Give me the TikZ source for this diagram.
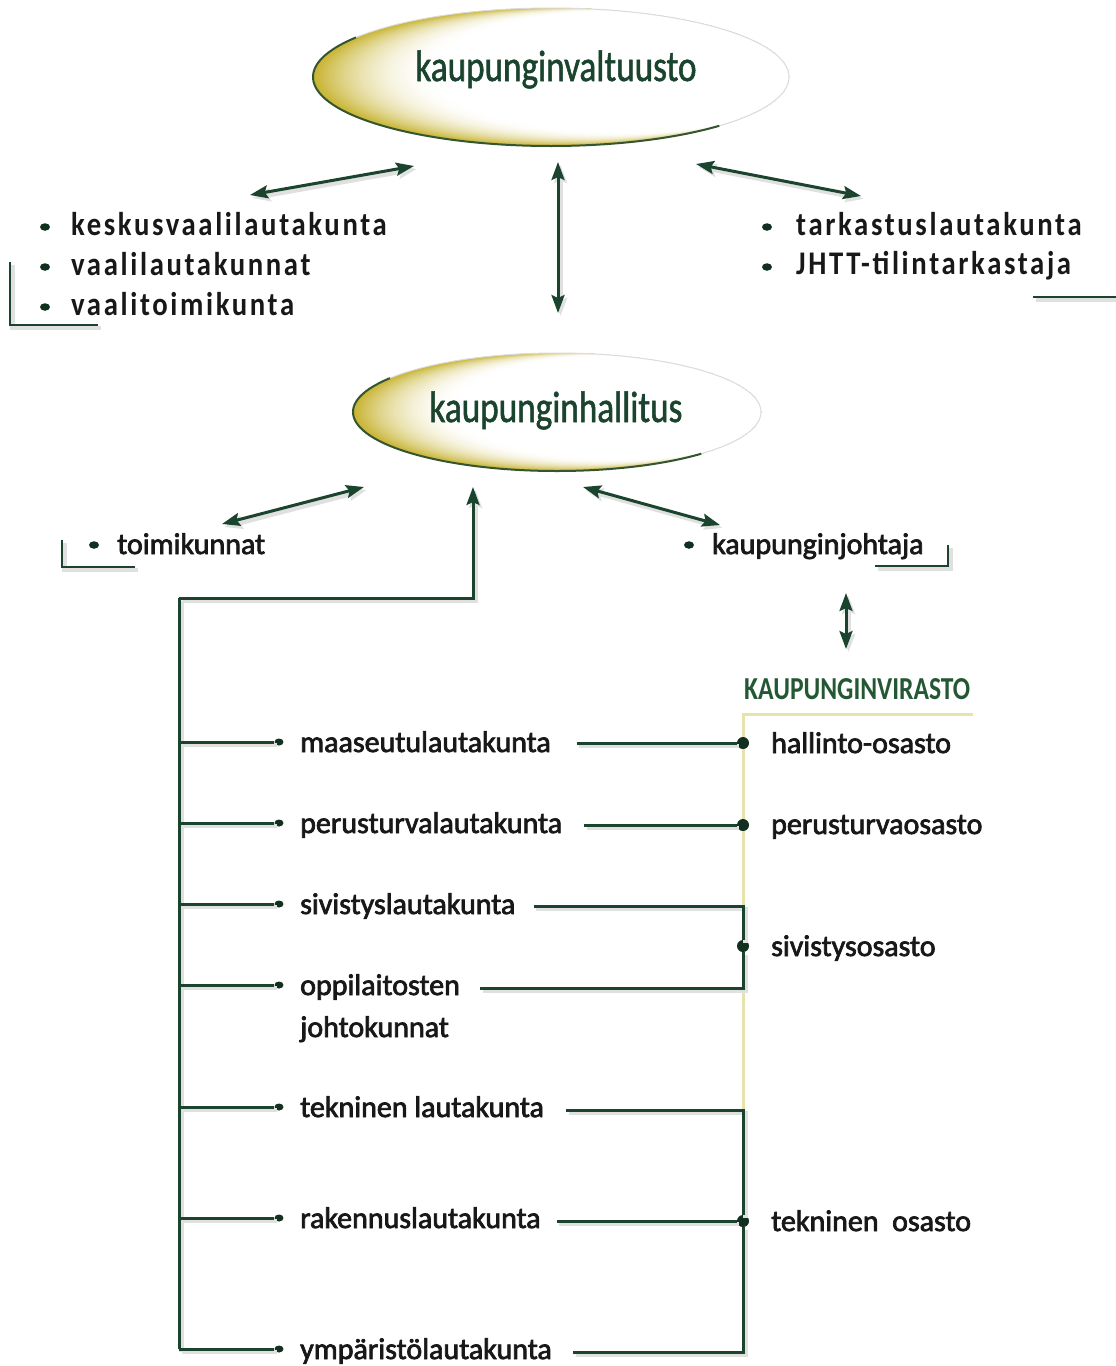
\documentclass[tikz,border=0pt]{standalone}
\usepackage{fontspec}
\setmainfont{Carlito}
\newfontfamily\titlefont[FakeStretch=0.8,FakeBold=1.2]{Carlito}
\newfontfamily\officefont[FakeStretch=0.8]{Carlito}
\newfontfamily\listfont[LetterSpace=8,FakeStretch=0.87]{Carlito}
\newfontfamily\labfont[FakeBold=2.4]{Carlito}
\usetikzlibrary{arrows.meta,shapes.geometric,calc}
\definecolor{dgreen}{RGB}{26,68,46}
\definecolor{ogreen}{RGB}{36,88,52}
\definecolor{gold}{RGB}{200,180,50}
\definecolor{paleyel}{RGB}{230,228,172}
\definecolor{txt}{RGB}{24,24,24}
\tikzset{
  titleell/.style n args={2}{ellipse, minimum width=#1pt, minimum height=#2pt, inner sep=0pt,
    draw=black!14, line width=1pt,
    path picture={
      \foreach \k in {0,...,40}{
        \pgfmathsetmacro\ellt{\k/40}
        \pgfmathsetmacro\ellpc{100*(1-(1-\ellt)*(1-\ellt))}
        \fill[white!\ellpc!gold] ($(path picture bounding box.center)+({0.32*\ellt*#1/2},{-0.08*\ellt*#2/2})$)
           ellipse ({(1-0.2*\ellt)*#1/2} and {(1-0.12*\ellt)*#2/2});
      }
    }},
  outl/.style={draw=dgreen!85!gold, line width=2pt},
  shad/.style={preaction={draw=black!12, line width=4.5pt, transform canvas={shift={(2.5pt,-3pt)}}}},
  conn/.style={draw=dgreen, line width=3pt, shad},
  dbl/.style={conn, {Stealth[length=18pt,width=13pt,inset=3pt]}-{Stealth[length=18pt,width=13pt,inset=3pt]}},
  sgl/.style={conn, -{Stealth[length=18pt,width=13pt,inset=3pt]}},
  bracket/.style={draw=dgreen, line width=2.2pt, shad},
  bul/.style={ellipse, fill=dgreen!70!black, inner sep=0pt, minimum width=10pt, minimum height=7.5pt},
  bigdot/.style={circle, fill=dgreen!70!black, inner sep=0pt, minimum size=12pt},
  toplist/.style={anchor=base west, inner sep=0pt, font={\listfont\bfseries\fontsize{33}{38}\selectfont}, text=txt},
  lab/.style={anchor=base west, inner sep=0pt, font={\labfont\fontsize{30}{36}\selectfont}, text=txt},
  titletext/.style={anchor=base, inner sep=0pt, font={\titlefont\fontsize{44}{50}\selectfont}, text=dgreen},
  office/.style={anchor=base west, inner sep=0pt, font={\officefont\bfseries\fontsize{32}{38}\selectfont}, text=ogreen},
  yline/.style={draw=paleyel, line width=3pt},
}
\begin{document}
\begin{tikzpicture}[x=1pt,y=-1pt]
\useasboundingbox (0,0) rectangle (1116,1366);
\fill[white] (0,0) rectangle (1116,1366);

% ellipses
\node[titleell={476}{138}] (kv) at (551,77) {};
\draw[outl] ($(kv.center)+({238*cos(215)},{69*sin(215)})$) arc[start angle=215, end angle=45, x radius=238, y radius=69];
\node[titletext] (kvt) at (556,81) {kaupunginvaltuusto};
\node[titleell={408}{118}] (kh) at (557,412) {};
\draw[outl] ($(kh.center)+({204*cos(215)},{59*sin(215)})$) arc[start angle=215, end angle=45, x radius=204, y radius=59];
\node[titletext] (kht) at (556,422) {kaupunginhallitus};

% top-left list
\node[bul] (b1) at (45,227) {}; \node[toplist] (kesk) at (71,235) {keskusvaalilautakunta};
\node[bul] (b2) at (45,267) {}; \node[toplist] (vaal) at (71,275) {vaalilautakunnat};
\node[bul] (b3) at (45,307) {}; \node[toplist] (vtoim) at (71,315) {vaalitoimikunta};
\draw[bracket] (10,262) -- (10,325) -- (98,325);

% top-right list
\node[bul] (b4) at (767,227) {}; \node[toplist] (tark) at (796,235) {tarkastuslautakunta};
\node[bul] (b5) at (767,267) {}; \node[toplist] (jhtt) at (796,274) {JHTT-tilintarkastaja};
\draw[bracket] (1033,297) -- (1116,297);

% arrows around kaupunginvaltuusto
\coordinate (kvL) at (414,166); \coordinate (listL) at (250,195);
\coordinate (kvB) at (558,162); \coordinate (khT) at (558,313);
\coordinate (kvR) at (696,164); \coordinate (listR) at (861,196);
\draw[dbl] (listL) -- (kvL);
\draw[dbl] (kvB) -- (khT);
\draw[dbl] (kvR) -- (listR);

% toimikunnat / kaupunginjohtaja
\node[bul] (b6) at (94,545) {}; \node[lab] (toim) at (117,554) {toimikunnat};
\draw[bracket] (62,540) -- (62,567) -- (135,567);
\node[bul] (b7) at (689,545) {}; \node[lab] (kjoht) at (712,554) {kaupunginjohtaja};
\draw[bracket] (875,566) -- (948,566) -- (948,545);

\coordinate (khL) at (364,487); \coordinate (toimA) at (222,524);
\coordinate (khR) at (583,487); \coordinate (kjA) at (720,525);
\coordinate (khM) at (473,487);
\draw[dbl] (toimA) -- (khL);
\draw[dbl] (khR) -- (kjA);

% kaupunginvirasto
\coordinate (kjB) at (846,593); \coordinate (virT) at (846,649);
\draw[dbl] (kjB) -- (virT);
\node[office] (vir) at (744,699) {KAUPUNGINVIRASTO};
\draw[yline] (973,714) -- (743,714) -- (743,1112);

% trunk
\coordinate (trTop) at (179,598);
\coordinate (trBot) at (179,1349);
\draw[conn] (trBot) -- (trTop);
\draw[sgl] (trTop) -| (khM);

% lautakunnat (left side)
\foreach \nm/\yy/\txt in {maa/742/maaseutulautakunta, per/823/perusturvalautakunta,
    siv/904/sivistyslautakunta, opp/985/oppilaitosten, tek/1107/tekninen\ lautakunta,
    rak/1218/rakennuslautakunta, ymp/1349/ympäristölautakunta}{
  \node[bul, minimum width=9pt, minimum height=7pt] (d\nm) at (279,\yy) {};
  \node[lab] (\nm) at (300,\yy+10) {\txt};
  \draw[conn] (179,\yy) -- (d\nm);
}
\node[lab] (johto) at (300,1037) {johtokunnat};

% osastot (right side)
\node[bigdot] (dhal) at (743,743) {};
\node[lab] (hal) at (771,753) {hallinto-osasto};
\node[bigdot] (dpso) at (743,825) {};
\node[lab] (pso) at (771,834) {perusturvaosasto};
\node[bigdot] (dsiv) at (743,946) {};
\node[lab] (sivo) at (771,956) {sivistysosasto};
\node[bigdot] (dtek) at (743,1221) {};
\node[lab] (teko) at (771,1231) {tekninen\ \ osasto};

\draw[conn] ([xshift=26pt]maa.east |- dhal) -- (dhal);
\draw[conn] ([xshift=22pt]per.east |- dpso) -- (dpso);
\draw[conn] ([xshift=18pt]siv.east |- 0,906) -- (743,906) -- (dsiv);
\draw[conn] ([xshift=20pt]opp.east |- 0,988) -- (743,988) -- (dsiv);
\draw[conn] ([xshift=22pt]tek.east |- 0,1110) -- (743,1110) -- (dtek);
\draw[conn] ([xshift=16pt]rak.east |- dtek) -- (dtek);
\draw[conn] ([xshift=21pt]ymp.east |- 0,1352) -- (743,1352) -- (dtek);
\end{tikzpicture}
\end{document}
